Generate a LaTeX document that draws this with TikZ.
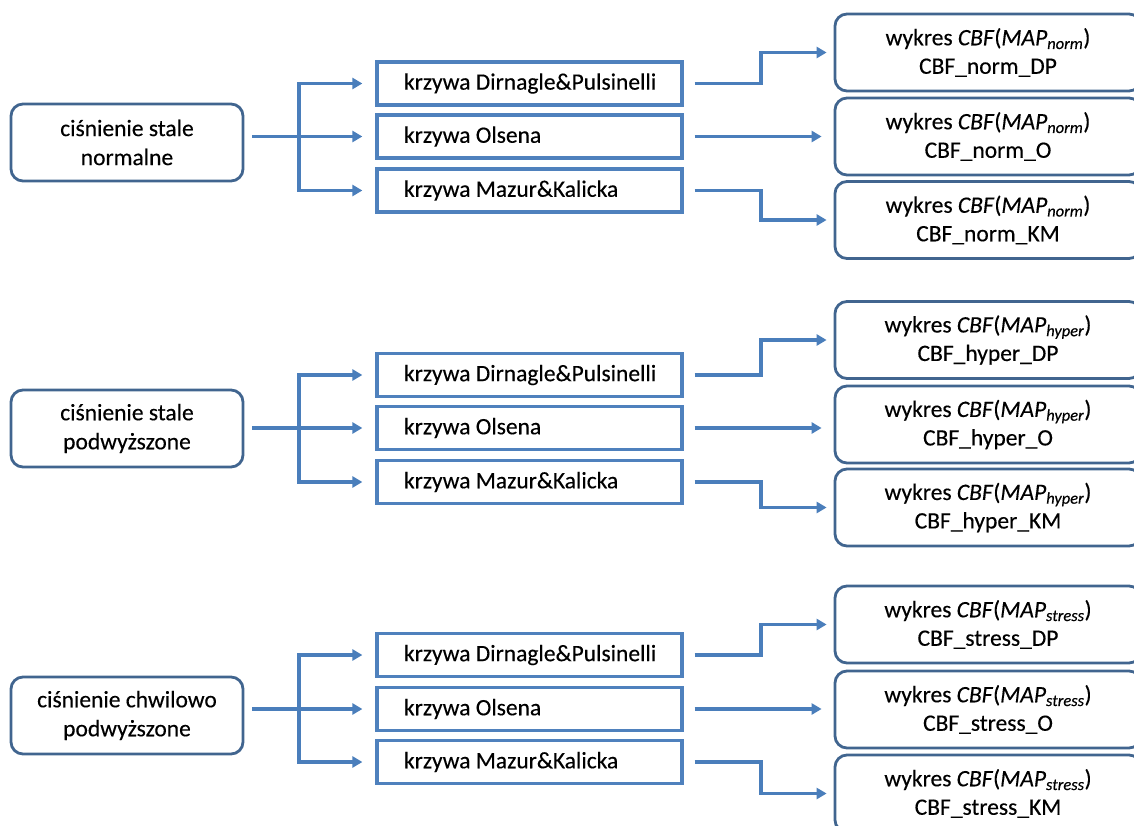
\documentclass[tikz,border=0pt]{standalone}
\usepackage{fontspec}
\setmainfont[FakeBold=0.3]{Carlito}
\usetikzlibrary{arrows.meta}
\definecolor{rcol}{HTML}{41658F}
\definecolor{mcol}{HTML}{4F81BD}
\definecolor{acol}{HTML}{4A7EBB}
\tikzset{
  lbox/.style={draw=rcol, line width=2.8pt, rounded corners=12pt, minimum width=232pt, minimum height=77pt, align=center, inner sep=0pt, font=\fontsize{23.5}{29}\selectfont},
  rbox/.style={draw=rcol, line width=2.8pt, rounded corners=12pt, minimum width=306pt, minimum height=77pt, align=center, inner sep=0pt, font=\fontsize{23.5}{28.5}\selectfont},
  mbox/.style={draw=mcol, line width=3.2pt, minimum width=305pt, minimum height=43pt, inner xsep=27pt, inner ysep=0pt, font=\fontsize{23.5}{28}\selectfont},
  arr/.style={draw=acol, line width=3.2pt, -{Triangle[length=10pt,width=11pt]}},
}
\newcommand\mtxt[1]{\makebox[251pt][l]{#1}}
\newcommand\wyk[1]{wykres \textit{CBF}(\textit{MAP}\textsubscript{\textit{#1}})}
\begin{document}
\begin{tikzpicture}[x=1pt,y=-1pt]
\useasboundingbox (0,0) rectangle (1134,826);
\coordinate (bx) at (299,0);
\coordinate (rx) at (761,0);
% group 1
\node[lbox] (La) at (127,142.5) {ciśnienie stale\\normalne};
\node[mbox] (Ma1) at (529.5,83.5) {\mtxt{krzywa Dirnagle\&Pulsinelli}};
\node[mbox] (Ma2) at (529.5,136.5) {\mtxt{krzywa Olsena}};
\node[mbox] (Ma3) at (529.5,190.5) {\mtxt{krzywa Mazur\&Kalicka}};
\node[rbox] (Ra1) at (988,52.5) {\wyk{norm}\\CBF\_norm\_DP};
\node[rbox] (Ra2) at (988,136.5) {\wyk{norm}\\CBF\_norm\_O};
\node[rbox] (Ra3) at (988,220) {\wyk{norm}\\CBF\_norm\_KM};
% group 2
\node[lbox] (Lb) at (127,428.5) {ciśnienie stale\\podwyższone};
\node[mbox] (Mb1) at (529.5,375) {\mtxt{krzywa Dirnagle\&Pulsinelli}};
\node[mbox] (Mb2) at (529.5,428) {\mtxt{krzywa Olsena}};
\node[mbox] (Mb3) at (529.5,482) {\mtxt{krzywa Mazur\&Kalicka}};
\node[rbox] (Rb1) at (988,340) {\wyk{hyper}\\CBF\_hyper\_DP};
\node[rbox] (Rb2) at (988,424.5) {\wyk{hyper}\\CBF\_hyper\_O};
\node[rbox] (Rb3) at (988,507.5) {\wyk{hyper}\\CBF\_hyper\_KM};
% group 3
\node[lbox] (Lc) at (127,715.5) {ciśnienie chwilowo\\podwyższone};
\node[mbox] (Mc1) at (529.5,655) {\mtxt{krzywa Dirnagle\&Pulsinelli}};
\node[mbox] (Mc2) at (529.5,709) {\mtxt{krzywa Olsena}};
\node[mbox] (Mc3) at (529.5,762) {\mtxt{krzywa Mazur\&Kalicka}};
\node[rbox] (Rc1) at (988,624.5) {\wyk{stress}\\CBF\_stress\_DP};
\node[rbox] (Rc2) at (988,709.5) {\wyk{stress}\\CBF\_stress\_O};
\node[rbox] (Rc3) at (988,793.5) {\wyk{stress}\\CBF\_stress\_KM};
% connectors
\foreach \g in {a,b,c}{
  \draw[arr, shorten <=8pt, shorten >=13pt] (L\g.east |- M\g2.west) -- (M\g2.west);
  \draw[arr, shorten >=13pt] (M\g2.west -| bx) |- (M\g1.west);
  \draw[arr, shorten >=13pt] (M\g2.west -| bx) |- (M\g3.west);
  \draw[arr, shorten <=11pt, shorten >=7pt] (M\g1.east) -- (M\g1.east -| rx) |- (R\g1.west);
  \draw[arr, shorten <=11pt, shorten >=12pt] (M\g2.east) -- (M\g2.east -| R\g2.west);
  \draw[arr, shorten <=11pt, shorten >=7pt] (M\g3.east) -- (M\g3.east -| rx) |- (R\g3.west);
}
\end{tikzpicture}
\end{document}
